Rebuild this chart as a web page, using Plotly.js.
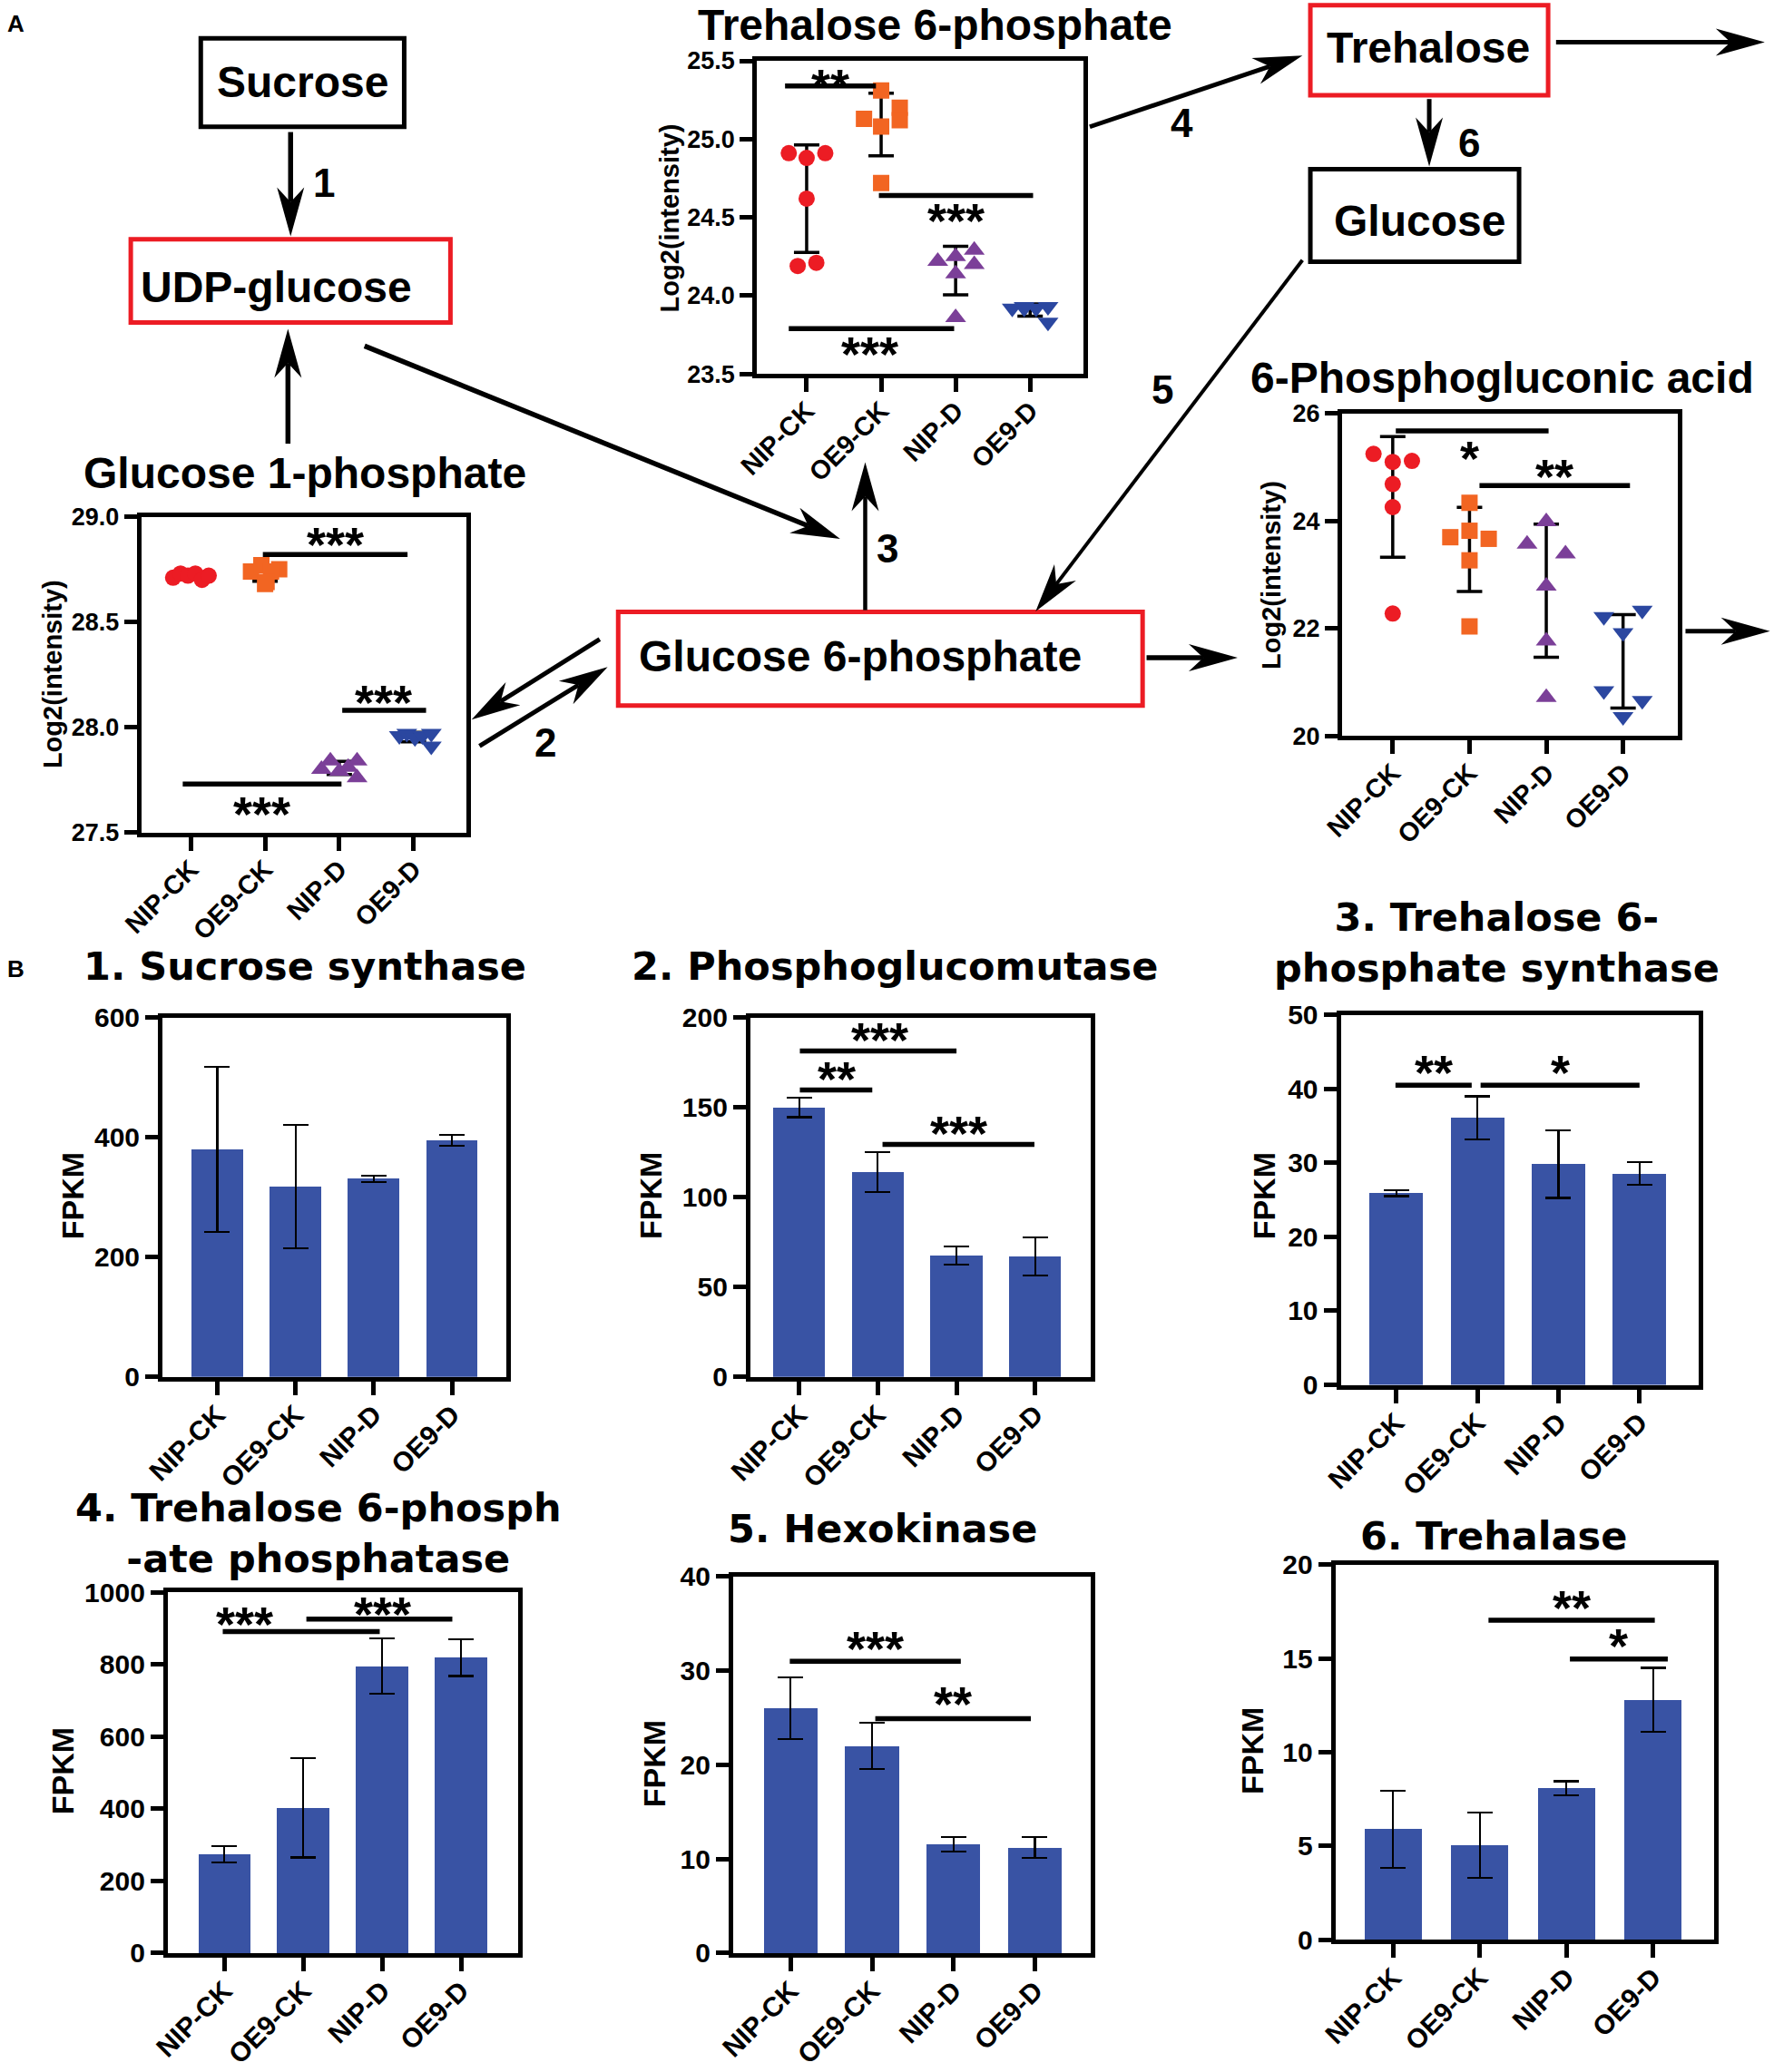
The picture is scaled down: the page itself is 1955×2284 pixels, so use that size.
<!DOCTYPE html>
<html><head><meta charset="utf-8">
<script src="https://cdn.plot.ly/plotly-3.0.1.min.js"></script>
<style>html,body{margin:0;padding:0;background:#fff}#chart{width:1955px;height:2284px}</style>
</head><body><div id="chart"></div>
<script>
// ================= DATA =================
const groups = ['NIP-CK', 'OE9-CK', 'NIP-D', 'OE9-D'];

// Panel A: metabolite levels, Log2(intensity), six replicates per group
const g1pNIPCK = [28.71, 28.73, 28.72, 28.73, 28.70, 28.72];
const g1pOE9CK = [28.74, 28.77, 28.75, 28.74, 28.68, 28.69];
const g1pNIPD  = [27.80, 27.84, 27.79, 27.81, 27.84, 27.76];
const g1pOE9D  = [27.96, 27.97, 27.95, 27.96, 27.97, 27.91];

const t6pNIPCK = [24.91, 24.88, 24.91, 24.62, 24.19, 24.21];
const t6pOE9CK = [25.13, 25.31, 25.20, 25.08, 25.12, 24.72];
const t6pNIPD  = [24.29, 24.25, 24.22, 24.20, 24.14, 23.86];
const t6pOE9D  = [23.92, 23.93, 23.92, 23.93, 23.83, 23.92];

const pgaNIPCK = [25.25, 25.10, 25.12, 24.69, 24.26, 22.28];
const pgaOE9CK = [24.34, 23.82, 23.70, 23.67, 23.27, 22.04];
const pgaNIPD  = [23.99, 23.57, 23.39, 22.79, 21.77, 20.72];
const pgaOE9D  = [22.22, 22.34, 21.92, 20.84, 20.66, 20.36];

// Panel B: gene expression (FPKM), mean and SD
const susyMean = [380, 318, 331, 395];     const susySD = [138, 103, 5.5, 9.5];
const pgmMean  = [150, 114, 67.5, 67];     const pgmSD  = [5.5, 11, 5, 10.5];
const tpsMean  = [25.9, 36.1, 29.8, 28.55]; const tpsSD  = [0.4, 2.9, 4.55, 1.55];
const tppMean  = [274, 403, 795, 819];     const tppSD  = [22, 138, 77, 51];
const hxkMean  = [26.0, 22.0, 11.55, 11.2]; const hxkSD  = [3.25, 2.45, 0.75, 1.1];
const treMean  = [5.9, 5.05, 8.07, 12.8];   const treSD  = [2.05, 1.75, 0.38, 1.7];

// Significance brackets: [from, to, level, stars, label x, label y]
const g1pSig = [[0.97, 2.92, 28.82, '***', 1.95, 28.92], [2.04, 3.17, 28.08, '***', 2.6, 28.17], [-0.11, 2.03, 27.73, '***', 0.96, 27.64]];
const t6pSig = [[-0.29, 0.93, 25.34, '**', 0.32, 25.41], [0.97, 3.04, 24.64, '***', 2.0, 24.55], [-0.24, 1.98, 23.79, '***', 0.85, 23.70]];
const pgaSig = [[0.04, 2.03, 25.68, '*', 1.0, 25.37], [1.13, 3.09, 24.66, '**', 2.1, 25.04]];
const susySig = [];
const pgmSig = [[0.01, 2.0, 181.4, '***', 1.02, 193.5], [0.01, 0.93, 159.7, '**', 0.48, 172], [1.06, 2.99, 129.4, '***', 2.03, 142]];
const tpsSig = [[-0.01, 0.93, 40.5, '**', 0.46, 43.65], [1.04, 3.0, 40.5, '*', 2.02, 43.65]];
const tppSig = [[-0.02, 1.97, 891, '***', 0.26, 942], [1.04, 2.89, 926, '***', 2.0, 971]];
const hxkSig = [[-0.01, 2.09, 30.98, '***', 1.04, 33.5], [1.04, 2.95, 24.9, '**', 1.99, 27.6]];
const treSig = [[1.1, 3.02, 17.04, '**', 2.06, 18.3], [2.04, 3.17, 14.97, '*', 2.6, 16.25]];

// ================= STYLE / LAYOUT =================
const W = 1955, H = 2284, DW = 1343, DH = 1568, S = W / DW;
const FONT = 'Liberation Sans, Arial, Helvetica, sans-serif';
const TFONT = 'DejaVu Sans, Verdana, sans-serif';
const SYMBOLS = ['circle', 'square', 'triangle-up', 'triangle-down'];
const COLORS = ['#EC1C24', '#F26522', '#7B3F98', '#2B47A0'];
const BAR = '#3953A4';
const px = d => d / DW, py = d => 1 - d / DH;

// point spread within a group (layout only)
const g1pJit = [[-0.24, -0.14, -0.04, 0.06, 0.15, 0.24], [-0.19, -0.05, 0.19, 0.08, 0, 0.02], [-0.24, -0.12, 0, 0.12, 0.24, 0.24], [-0.19, -0.09, 0.02, 0.12, 0.24, 0.24]];
const t6pJit = [[-0.24, 0, 0.25, 0, -0.12, 0.13], [-0.23, 0, 0.25, 0, 0.25, 0], [0.25, 0, -0.24, 0.25, 0, 0], [-0.24, -0.08, 0.08, 0.24, 0.24, -0.08]];
const pgaJit = [[-0.25, 0, 0.25, 0, 0, 0], [0, 0, -0.25, 0.25, 0, 0], [0, -0.25, 0.25, 0, 0, 0], [-0.25, 0.25, 0, -0.25, 0.25, 0]];

const scatterPanels = [
  {k: '', sets: [g1pNIPCK, g1pOE9CK, g1pNIPD, g1pOE9D], jit: g1pJit, sig: g1pSig, frame: [107, 353, 391, 630], xr: [-0.668, 3.712], yr: [27.5, 29], dt: 0.5, fmt: '.1f',
   title: 'Glucose 1-phosphate', tpos: [231, 358], ylab: [40, 510]},
  {k: '2', sets: [t6pNIPCK, t6pOE9CK, t6pNIPD, t6pOE9D], jit: t6pJit, sig: t6pSig, frame: [573, 820, 46, 283], xr: [-0.668, 3.712], yr: [23.5, 25.5], dt: 0.5, fmt: '.1f',
   title: 'Trehalose 6-phosphate', tpos: [708, 19], ylab: [507, 165]},
  {k: '3', sets: [pgaNIPCK, pgaOE9CK, pgaNIPD, pgaOE9D], jit: pgaJit, sig: pgaSig, frame: [1016, 1270, 313, 557], xr: [-0.66, 3.71], yr: [20, 26], dt: 2, fmt: '',
   title: '6-Phosphogluconic acid', tpos: [1137, 286], ylab: [962, 435]}
];
const barPanels = [
  {k: '4', m: susyMean, e: susySD, sig: susySig, frame: [123, 383, 770, 1042], xr: [-0.70, 3.69], yr: [0, 600], dt: 200, title: '1. Sucrose synthase', tpos: [231, 731], ylab: [55, 905]},
  {k: '5', m: pgmMean, e: pgmSD, sig: pgmSig, frame: [568, 826, 770, 1042], xr: [-0.62, 3.71], yr: [0, 200], dt: 50, title: '2. Phosphoglucomutase', tpos: [677, 731], ylab: [493, 905]},
  {k: '6', m: tpsMean, e: tpsSD, sig: tpsSig, frame: [1015, 1286, 768, 1048], xr: [-0.685, 3.73], yr: [0, 50], dt: 10, title: '3. Trehalose 6-<br>phosphate synthase', tpos: [1133, 713], ylab: [957, 905]},
  {k: '7', m: tppMean, e: tppSD, sig: tppSig, frame: [127, 392, 1205, 1478], xr: [-0.717, 3.72], yr: [0, 1000], dt: 200, title: '4. Trehalose 6-phosph<br>-ate phosphatase', tpos: [241, 1160], ylab: [47, 1340]},
  {k: '8', m: hxkMean, e: hxkSD, sig: hxkSig, frame: [555, 826, 1193, 1478], xr: [-0.706, 3.69], yr: [0, 40], dt: 10, title: '5. Hexokinase', tpos: [668, 1157], ylab: [495, 1335]},
  {k: '9', m: treMean, e: treSD, sig: treSig, frame: [1011, 1298, 1184, 1468], xr: [-0.667, 3.71], yr: [0, 20], dt: 5, title: '6. Trehalase', tpos: [1131, 1162], ylab: [948, 1325]}
];

const layout = {
  width: W, height: H, margin: {l: 0, r: 0, t: 0, b: 0}, paper_bgcolor: '#fff', plot_bgcolor: 'rgba(0,0,0,0)',
  showlegend: false, shapes: [], annotations: [], bargap: 0
};
const traces = [];
const mean = a => a.reduce((s, v) => s + v, 0) / a.length;
const sd = a => { const m = mean(a); return Math.sqrt(a.reduce((s, v) => s + (v - m) * (v - m), 0) / (a.length - 1)); };
const idx = groups.map((g, i) => i);

function axes(p, tickSize, catSize) {
  const f = p.frame;
  layout['xaxis' + p.k] = {
    domain: [px(f[0]), px(f[1])], anchor: 'y' + p.k, range: p.xr, tickmode: 'array', tickvals: idx, ticktext: groups,
    tickangle: -45, showline: true, mirror: true, linecolor: '#000', linewidth: 5, ticks: 'outside', ticklen: 15, tickwidth: 5,
    tickcolor: '#000', showgrid: false, zeroline: false, fixedrange: true, ticklabelstandoff: -8,
    tickfont: {family: FONT, size: catSize, weight: 'bold', color: '#000'}
  };
  layout['yaxis' + p.k] = {
    domain: [py(f[3]), py(f[2])], anchor: 'x' + p.k, range: p.yr, tick0: p.yr[0], dtick: p.dt, tickformat: p.fmt || '',
    showline: true, mirror: true, linecolor: '#000', linewidth: 5, ticks: 'outside', ticklen: 14, tickwidth: 5,
    tickcolor: '#000', showgrid: false, zeroline: false, fixedrange: true,
    tickfont: {family: FONT, size: tickSize, weight: 'bold', color: '#000'}
  };
}
function sigMarks(p) {
  p.sig.forEach(s => {
    layout.shapes.push({type: 'line', xref: 'x' + p.k, yref: 'y' + p.k, x0: s[0], x1: s[1], y0: s[2], y1: s[2], line: {color: '#000', width: 5.5}});
    layout.annotations.push({xref: 'x' + p.k, yref: 'y' + p.k, x: s[4], y: s[5], text: s[3], showarrow: false, xanchor: 'center', yanchor: 'middle',
      yshift: -12, font: {family: FONT, size: 54, weight: 'bold', color: '#000'}});
  });
}
function label(x, y, text, size, fam, opts) {
  layout.annotations.push(Object.assign({xref: 'paper', yref: 'paper', x: px(x), y: py(y), text: text, showarrow: false,
    xanchor: 'center', yanchor: 'middle', font: {family: fam || FONT, size: size, weight: 'bold', color: '#000'}}, opts || {}));
}

scatterPanels.forEach(p => {
  axes(p, 27, 29);
  traces.push({type: 'scatter', mode: 'markers', x: idx, y: p.sets.map(mean), xaxis: 'x' + p.k, yaxis: 'y' + p.k, hoverinfo: 'skip',
    marker: {size: 1, opacity: 0},
    error_y: {type: 'data', array: p.sets.map(sd), visible: true, color: '#000', thickness: 3.5, width: 14}});
  p.sets.forEach((vals, g) => {
    traces.push({type: 'scatter', mode: 'markers', x: vals.map((v, j) => g + p.jit[g][j]), y: vals, xaxis: 'x' + p.k, yaxis: 'y' + p.k,
      hoverinfo: 'skip', marker: {symbol: SYMBOLS[g], size: g >= 2 ? 20 : 18, color: COLORS[g], line: {width: 0}}});
  });
  sigMarks(p);
  label(p.tpos[0], p.tpos[1], p.title, 48);
  label(p.ylab[0], p.ylab[1], 'Log2(intensity)', 29, FONT, {textangle: -90});
});

barPanels.forEach(p => {
  axes(p, 30, 30);
  traces.push({type: 'bar', x: idx, y: p.m, width: 0.66, xaxis: 'x' + p.k, yaxis: 'y' + p.k, hoverinfo: 'skip',
    marker: {color: BAR, line: {width: 0}},
    error_y: {type: 'data', array: p.e, visible: true, color: '#000', thickness: 2.2, width: 14}});
  sigMarks(p);
  label(p.tpos[0], p.tpos[1], p.title, 43, TFONT);
  label(p.ylab[0], p.ylab[1], 'FPKM', 34, FONT, {textangle: -90});
});

// ---------- pathway diagram ----------
function box(x0, x1, y0, y1, color) {
  layout.shapes.push({type: 'rect', xref: 'paper', yref: 'paper', x0: px(x0), x1: px(x1), y0: py(y1), y1: py(y0),
    line: {color: color, width: 5}, fillcolor: 'rgba(0,0,0,0)'});
}
function arrow(x1, y1, x2, y2, w) {
  // tail (x1,y1) -> head (x2,y2), diagram units; head drawn as a dart
  const X1 = x1 * S, Y1 = y1 * S, X2 = x2 * S, Y2 = y2 * S;
  const L = Math.hypot(X2 - X1, Y2 - Y1), dx = (X2 - X1) / L, dy = (Y2 - Y1) / L, nx = -dy, ny = dx;
  const hl = 54, hw = 15, notch = 0.7 * hl;
  const P = (X, Y) => (X / W).toFixed(5) + ',' + (1 - Y / H).toFixed(5);
  const bx = X2 - dx * hl, by = Y2 - dy * hl, mx = X2 - dx * notch, my = Y2 - dy * notch;
  layout.shapes.push({type: 'line', xref: 'paper', yref: 'paper', x0: X1 / W, y0: 1 - Y1 / H, x1: mx / W, y1: 1 - my / H, line: {color: '#000', width: w}});
  layout.shapes.push({type: 'path', xref: 'paper', yref: 'paper', line: {width: 0}, fillcolor: '#000',
    path: 'M' + P(X2, Y2) + 'L' + P(bx + nx * hw, by + ny * hw) + 'L' + P(mx, my) + 'L' + P(bx - nx * hw, by - ny * hw) + 'Z'});
}

box(152, 306, 29, 96, '#000');
box(99, 341, 181, 244, '#EC1C24');
box(468, 865, 463, 534, '#EC1C24');
box(992, 1172, 4, 72, '#EC1C24');
box(992, 1150, 128, 198, '#000');

label(229, 62, 'Sucrose', 48);
label(209, 217, 'UDP-glucose', 48);
label(651, 497, 'Glucose 6-phosphate', 48);
label(1081, 36, 'Trehalose', 48);
label(1075, 167, 'Glucose', 48);

arrow(220, 100, 220, 179, 5.5);
arrow(218, 336, 218, 249, 5.5);
arrow(276, 262, 636, 408, 5.5);
arrow(655, 462, 655, 350, 4.5);
arrow(868, 498, 937, 498, 5.5);
arrow(454, 484, 357, 545, 5);
arrow(363, 565, 460, 505, 5);
arrow(825, 96, 986, 42, 5);
arrow(1178, 32, 1336, 32, 5);
arrow(1082, 75, 1082, 126, 5);
arrow(986, 197, 784, 463, 4);
arrow(1276, 478, 1340, 478, 5);

label(245, 138, '1', 44);
label(413, 562, '2', 44);
label(672, 415, '3', 44);
label(895, 93, '4', 44);
label(880, 295, '5', 44);
label(1112, 108, '6', 44);
label(12, 18, 'A', 26);
label(12, 733, 'B', 26);

Plotly.newPlot('chart', traces, layout, {staticPlot: true, displayModeBar: false});
</script>
</body></html>
